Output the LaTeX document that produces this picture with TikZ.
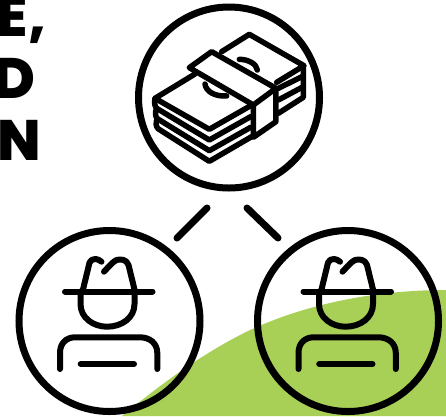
\documentclass[tikz,border=0pt]{standalone}
\usepackage{fontspec}
\setmainfont{Poppins}[BoldFont={Poppins ExtraBold}]
\definecolor{leaf}{HTML}{A9D056}
\tikzset{
  ring/.style={circle,draw=black,line width=7pt,inner sep=0pt,outer sep=0pt,minimum size=#1},
  link/.style={line width=7pt,line cap=round},
  fig/.style={line width=6pt,line cap=round,line join=round},
  cash/.style={line width=5.5pt,line cap=round,line join=round},
  word/.style={font=\bfseries\fontsize{57}{57}\selectfont,anchor=base east,inner sep=0pt,text=black},
  person/.pic={
    \draw[fig] (-43.5,-27.5) -- (44,-27.5);
    \draw[fig] (-26,-27.5) -- (-19,-56.3) .. controls (-18,-59) and (-16,-60) .. (-13,-60) .. controls (-11,-60) and (-9,-59) .. (-7,-57.3);
    \draw[fig] (-4.5,-47.3) .. controls (0,-52) and (4,-57) .. (8,-59) .. controls (12,-60) and (18,-60) .. (20,-54) -- (26.5,-27.5);
    \draw[fig] (-28,-27.5) -- (-28,-15) .. controls (-28,-1) and (-15,7.7) .. (-1.5,7.7) .. controls (13,7.7) and (26,-1) .. (26,-15) -- (26,-27.5);
    \draw[fig] (-48.5,50) -- (-48.5,34) .. controls (-48.5,24) and (-42,18.3) .. (-33.5,18.3) -- (31.5,18.3) .. controls (41,18.3) and (48.8,24) .. (48.8,34) -- (48.8,50);
    \draw[fig] (-27.8,45) -- (25.5,45);
  }
}
\begin{document}
\begin{tikzpicture}[x=1pt,y=-1pt]
\useasboundingbox (0,0) rectangle (446,416);
% green hill
\fill[leaf] (122,416) .. controls (160,385) and (200,355) .. (246,332) .. controls (300,306) and (370,290) .. (446,290) -- (446,416) -- cycle;
% headline fragments
\node[word] (w1) at (28,36.5) {E};
\node[word,anchor=base west] (w1b) at (28,36.5) {,};
\node[word] (w2) at (36,98) {D};
\node[word] (w3) at (41,160) {AN};
% circles
\node[ring=181pt] (top) at (229,97.5) {};
\node[ring=181pt] (left) at (109.5,321) {};
\node[ring=181pt] (right) at (348,321) {};
% links
\coordinate (a1) at (207,208); \coordinate (a2) at (177,238);
\coordinate (b1) at (247,208); \coordinate (b2) at (278,238);
\draw[link] (a1) -- (a2);
\draw[link] (b1) -- (b2);
% persons
\pic at (108.5,319) {person};
\pic at (347,319) {person};
% money
\begin{scope}[shift={(130,0)},x=0.3333pt,y=-0.3333pt,cash]
\draw (275,155) -- (358,103) -- (522,197) -- (440,247);
\draw (195,222) -- (75,295) -- (238,388) -- (362,317);
\draw (75,295) .. controls (72,310) and (75,320) .. (80,325) -- (238,420) -- (362,350);
\draw (80,325) .. controls (74,338) and (76,350) .. (82,356) -- (238,452) -- (362,382);
\draw (82,356) .. controls (76,368) and (78,380) .. (84,386) -- (238,484) -- (365,410);
\draw (445,265) -- (520,228) -- (520,197);
\draw (445,300) -- (520,260) -- (520,228);
\draw (445,340) -- (520,292) -- (520,260);
\draw (178,203) -- (245,155) -- (438,265) -- (370,315) -- cycle;
\draw (370,315) -- (370,412) -- (438,365) -- (438,265);
\draw (225,252) .. controls (228,275) and (255,290) .. (290,288);
\draw (328,178) .. controls (355,178) and (380,192) .. (382,210);
\end{scope}
\end{tikzpicture}
\end{document}
